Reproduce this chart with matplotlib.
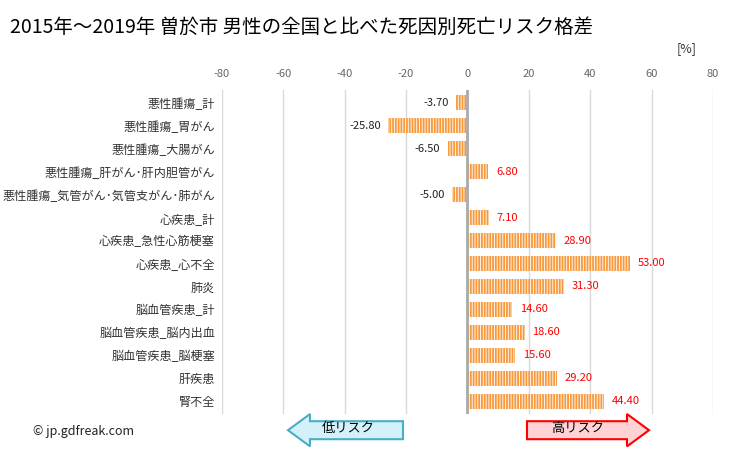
import matplotlib.pyplot as plt
from matplotlib.patches import FancyArrow

plt.rcParams['font.family'] = ['Noto Sans CJK JP', 'DejaVu Sans']
plt.rcParams['hatch.linewidth'] = 1.3

categories = ['悪性腫瘍_計', '悪性腫瘍_胃がん', '悪性腫瘍_大腸がん', '悪性腫瘍_肝がん･肝内胆管がん',
              '悪性腫瘍_気管がん･気管支がん･肺がん', '心疾患_計', '心疾患_急性心筋梗塞', '心疾患_心不全',
              '肺炎', '脳血管疾患_計', '脳血管疾患_脳内出血', '脳血管疾患_脳梗塞', '肝疾患', '腎不全']
values = [-3.70, -25.80, -6.50, 6.80, -5.00, 7.10, 28.90, 53.00, 31.30, 14.60, 18.60, 15.60, 29.20, 44.40]
ticks = [-80, -60, -40, -20, 0, 20, 40, 60, 80]

fig = plt.figure(figsize=(7.29, 4.5), dpi=100)
ax = fig.add_axes([0.3045, 0.08, 0.6735, 0.72])

y = list(range(len(categories)))
ax.barh(y, values, height=0.65, color='#FFF4E8', edgecolor='#F79A3E', hatch='||||||', linewidth=0)

for yi, v in zip(y, values):
    if v < 0:
        ax.text(v - 2.5, yi, f'{v:.2f}', ha='right', va='center', fontsize=8, color='#222222')
    else:
        ax.text(v + 2.5, yi, f'{v:.2f}', ha='left', va='center', fontsize=8, color='red')

ax.set_xlim(-80, 80)
ax.set_ylim(len(categories) - 0.45, -0.55)
ax.set_xticks(ticks)
ax.set_xticklabels([str(t) for t in ticks], fontsize=8, color='#666666')
ax.xaxis.tick_top()
ax.tick_params(axis='x', length=0, pad=8)
ax.set_yticks(y)
ax.set_yticklabels(categories, fontsize=8.7, color='#333333')
ax.tick_params(axis='y', length=0, pad=5)
ax.grid(axis='x', color='#d9d9d9', linewidth=1)
ax.axvline(0, color='#aaaaaa', linewidth=2)
ax.set_axisbelow(True)
for s in ax.spines.values():
    s.set_visible(False)

fig.text(0.014, 0.938, '2015年～2019年 曽於市 男性の全国と比べた死因別死亡リスク格差', fontsize=14, va='center')
fig.text(0.928, 0.893, '[%]', fontsize=9, color='#333333', va='center')
fig.text(0.045, 0.04, '© jp.gdfreak.com', fontsize=9, color='#222222', va='center')

# risk arrows
la = FancyArrow(403 / 729, 0.044, -115 / 729, 0, width=0.04, head_width=0.072, head_length=22 / 729,
                length_includes_head=True, transform=fig.transFigure, facecolor='#D3F1FA', edgecolor='#4BACC6', linewidth=1.5)
ra = FancyArrow(527 / 729, 0.044, 122 / 729, 0, width=0.04, head_width=0.072, head_length=22 / 729,
                length_includes_head=True, transform=fig.transFigure, facecolor='#FFD3D3', edgecolor='red', linewidth=1.5)
fig.add_artist(la)
fig.add_artist(ra)
fig.text(348 / 729, 0.047, '低リスク', fontsize=9.5, ha='center', va='center')
fig.text(578 / 729, 0.047, '高リスク', fontsize=9.5, ha='center', va='center')

fig.savefig('out.png', dpi=100)
